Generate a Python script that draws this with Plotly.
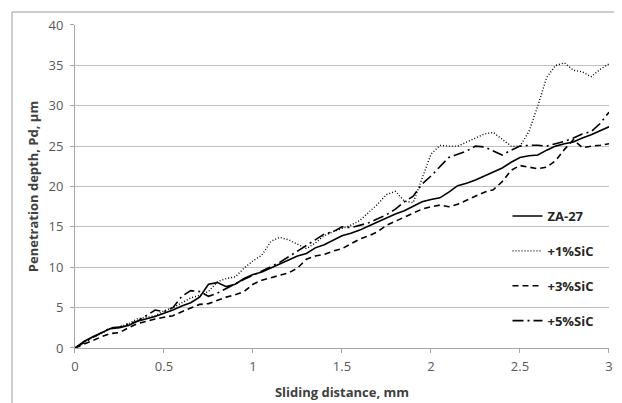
import plotly.graph_objects as go

distance = [round(i * 0.05, 2) for i in range(61)]

za27 = [0, 0.8, 1.4, 1.9, 2.4, 2.5, 2.8, 3.3, 3.6, 3.9,
        4.3, 4.7, 5.2, 5.6, 6.3, 7.9, 8.1, 7.6, 7.9, 8.6,
        9.1, 9.4, 9.9, 10.4, 10.9, 11.4, 11.7, 12.4, 12.8, 13.3,
        13.9, 14.2, 14.6, 15.1, 15.6, 16.2, 16.6, 17.0, 17.6, 18.1,
        18.4, 18.6, 19.3, 20.1, 20.4, 20.8, 21.3, 21.8, 22.3, 23.0,
        23.6, 23.8, 23.9, 24.5, 25.0, 25.3, 25.5, 26.0, 26.4, 26.9,
        27.4]

sic1 = [0, 0.7, 1.3, 1.8, 2.5, 2.6, 3.0, 3.6, 3.8, 4.0,
        4.6, 5.0, 5.6, 6.2, 6.5, 7.0, 8.2, 8.6, 8.8, 9.9,
        10.8, 11.5, 13.2, 13.7, 13.4, 12.9, 12.3, 13.0, 13.9, 14.4,
        14.8, 15.2, 15.8, 16.8, 17.8, 19.0, 19.4, 18.2, 18.0, 21.0,
        24.0, 25.1, 25.0, 25.0, 25.5, 25.9, 26.5, 26.7, 25.8, 25.0,
        25.0, 26.8, 30.0, 33.5, 35.0, 35.3, 34.4, 34.2, 33.6, 34.5,
        35.2]

sic3 = [0, 0.5, 1.0, 1.4, 1.8, 1.9, 2.5, 3.0, 3.3, 3.6,
        3.8, 4.0, 4.5, 5.0, 5.4, 5.5, 5.9, 6.3, 6.6, 7.0,
        7.9, 8.4, 8.7, 9.0, 9.3, 9.9, 11.0, 11.4, 11.6, 12.0,
        12.3, 12.9, 13.5, 13.9, 14.4, 15.2, 15.7, 16.1, 16.6, 17.2,
        17.5, 17.7, 17.5, 17.8, 18.3, 18.8, 19.3, 19.6, 20.6, 22.0,
        22.6, 22.4, 22.2, 22.4, 23.2, 24.6, 25.8, 24.8, 25.0, 25.1,
        25.3]

sic5 = [0, 0.7, 1.3, 1.9, 2.5, 2.6, 3.0, 3.3, 4.0, 4.7,
        4.5, 5.0, 6.4, 7.1, 7.0, 6.4, 6.8, 7.4, 8.0, 8.5,
        9.0, 9.5, 10.1, 10.6, 11.3, 12.0, 12.8, 13.5, 14.1, 14.4,
        15.0, 14.9, 15.2, 15.5, 16.0, 16.5, 17.2, 18.1, 18.8, 20.3,
        21.3, 22.5, 23.6, 24.0, 24.4, 25.0, 24.9, 24.4, 23.9, 24.5,
        25.0, 25.1, 25.1, 25.0, 25.3, 25.6, 26.0, 26.5, 26.8, 27.8,
        29.2]

series_names = ["ZA-27", "+1%SiC", "+3%SiC", "+5%SiC"]
series_values = [za27, sic1, sic3, sic5]
dash_styles = ["solid", "1px,2px", "6px,4px", "11px,4px,2px,4px"]
widths = [1.6, 1.4, 1.6, 1.6]

x_ticks = [0, 0.5, 1, 1.5, 2, 2.5, 3]
x_tick_labels = ["0", "0.5", "1", "1.5", "2", "2.5", "3"]
y_ticks = [0, 5, 10, 15, 20, 25, 30, 35, 40]

fig = go.Figure()
for name, vals, dsh, w in zip(series_names, series_values, dash_styles, widths):
    fig.add_trace(go.Scatter(
        x=distance, y=vals, mode="lines", name="<b>" + name + "</b>", legendgroup=name,
        line=dict(color="black", width=w, dash=dsh),
    ))

# chart-area frame (top and left edges visible in the crop), on a full-size overlay axis pair
fig.add_trace(go.Scatter(
    x=[1, 1, 700], y=[-20, 391, 391], mode="lines", xaxis="x2", yaxis="y2",
    line=dict(color="#9a9a9a", width=1), showlegend=False, hoverinfo="skip",
))

font_family = "Open Sans, Liberation Sans, sans-serif"

# page body has an 8px margin, so the figure is sized/offset to compensate
fig.update_layout(
    width=614, height=395,
    margin=dict(l=3, r=0, t=3, b=0, autoexpand=False),
    paper_bgcolor="white", plot_bgcolor="rgba(0,0,0,0)",
    font=dict(family=font_family, size=13, color="#404040"),
    showlegend=True,
    legend=dict(
        x=0.8126, y=0.5153, xanchor="left", yanchor="top",
        bgcolor="rgba(0,0,0,0)", tracegroupgap=15,
        font=dict(size=13, color="#262626", family=font_family),
        itemwidth=30,
    ),
    xaxis=dict(
        domain=[0.104746, 0.978723],
        range=[0, 3], tickvals=x_ticks, ticktext=x_tick_labels,
        showgrid=False, zeroline=False, automargin=False,
        showline=True, linecolor="#a6a6a6", linewidth=1,
        ticks="outside", ticklen=4, tickcolor="#a6a6a6", ticklabelstandoff=2,
        tickfont=dict(size=13, color="#595959"),
        title=dict(text="<b>Sliding distance, mm</b>", font=dict(size=13, color="#404040"), standoff=14),
    ),
    yaxis=dict(
        domain=[0.140306, 0.964286],
        range=[0, 40], tickvals=y_ticks,
        showgrid=True, gridcolor="#bfbfbf", gridwidth=1, zeroline=False, automargin=False,
        showline=True, linecolor="#a6a6a6", linewidth=1,
        ticks="outside", ticklen=4, tickcolor="#a6a6a6", ticklabelstandoff=4,
        tickfont=dict(size=13, color="#595959"),
        title=dict(text="<b>Penetration depth, Pd, µm</b>", font=dict(size=13, color="#404040"), standoff=6),
    ),
    xaxis2=dict(domain=[0, 1], range=[0, 611], visible=False, anchor="y2", fixedrange=True),
    yaxis2=dict(domain=[0, 1], range=[0, 392], visible=False, anchor="x2", fixedrange=True),
)

fig.write_html("out.html")
